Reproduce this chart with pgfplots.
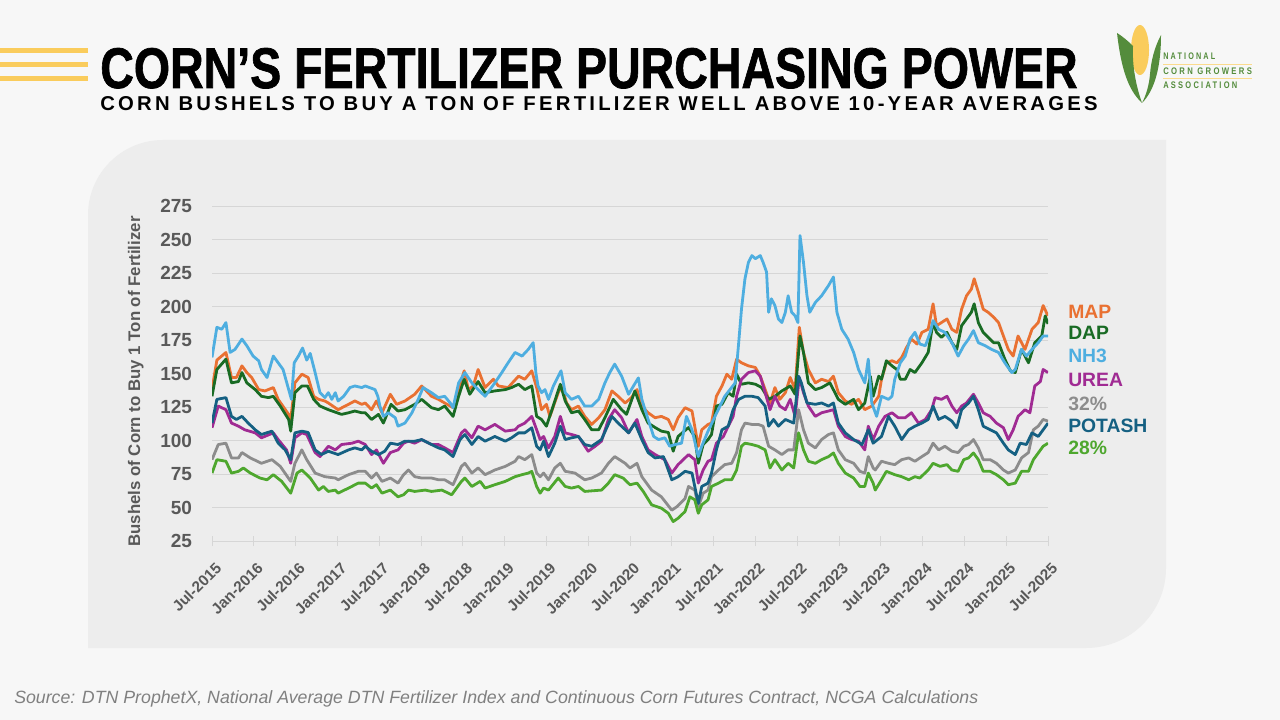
\documentclass[border=0pt]{standalone}
\usepackage{fontspec}
\usepackage{graphicx}
\usepackage{pgfplots}
\usepackage{pgfplotstable}
\pgfplotsset{compat=1.18}
\setmainfont{Liberation Sans}
\newfontfamily\titlefont{Liberation Sans}[BoldFeatures={FakeBold=1.3}]
\newfontfamily\spacedfont{Liberation Sans}[LetterSpace=16]
\newfontfamily\logofont{Liberation Sans}[LetterSpace=30]

\definecolor{cMAP}{RGB}{233,113,50}
\definecolor{cDAP}{RGB}{25,107,36}
\definecolor{cNH}{RGB}{78,174,224}
\definecolor{cUREA}{RGB}{160,43,147}
\definecolor{cThirty}{RGB}{140,140,140}
\definecolor{cPOT}{RGB}{21,96,130}
\definecolor{cTwenty}{RGB}{78,167,46}
\definecolor{pagebg}{RGB}{247,247,247}
\definecolor{panel}{RGB}{237,237,237}
\definecolor{txtgray}{RGB}{89,89,89}
\definecolor{gridc}{RGB}{214,214,214}
\definecolor{stripe}{RGB}{250,204,92}
\definecolor{logogreen}{RGB}{84,140,60}

% x = months since Jul-2015, y = bushels per ton
\pgfplotstableread{
m v
0 138
0.7 160
2.0 165.7
2.8 147
3.5 147
4.3 155.7
5.0 150.7
5.7 147
6.7 138
7.6 137
8.8 139.5
9.5 130.7
11.0 119.5
11.3 115.7
11.9 143
12.9 149.5
13.8 147
14.6 133
15.3 130.7
16.2 129.5
16.7 128
18.1 123
19.6 127
20.5 129.5
21.5 127
22.0 128
22.9 123
23.6 129.5
24.4 120.7
25.6 134.5
26.5 127
27.7 129.5
29.1 134.5
30.1 140.7
31.5 133
32.5 130.7
33.4 128
34.6 124.5
35.4 138
36.2 152
36.8 138
37.5 140.7
38.2 153
39.2 139.5
40.4 145.7
41.1 140.7
42.5 139.5
44.0 148
44.9 145.7
45.9 152
46.6 139.5
47.3 123
48.0 127
48.5 118
49.7 135.7
50.2 140.7
50.9 128
51.6 123
52.6 125.7
53.5 118
54.5 112
55.5 117
56.4 123
57.4 137
58.3 133
59.3 128
60.2 132
61.0 138
61.7 125.7
62.6 120.7
63.6 117
64.5 118
65.5 115.7
66.2 108
66.9 117
67.9 124.5
68.9 122
69.8 95.7
70.3 108
71.2 112
71.7 113
72.4 133
73.2 140.7
73.9 149.5
74.6 145.7
75.3 160.7
76.0 158
77.0 155.7
78.0 154.5
78.7 148
79.4 138
80.1 128
80.8 139.5
81.5 130.7
82.3 135.7
83.0 147
83.7 138
84.3 184.5
84.9 165.7
85.6 153
86.6 143
87.5 145.7
88.5 144
89.2 148
89.9 135.7
90.9 129.5
91.8 127
92.8 130.7
93.7 123
94.7 125.7
95.7 133
96.1 145.7
96.8 158
97.6 159.5
98.3 158
99.0 162
99.7 169.5
100.4 175.7
101.2 172
101.9 180.7
102.8 183
103.5 202
104.0 185.7
104.7 188
105.5 190.7
106.2 183
106.9 180.7
107.6 198
108.3 208
109.0 213
109.4 220.7
110.0 210.7
110.7 198
111.4 195.7
112.2 192
112.9 188
113.6 178
114.3 168
115.0 163
115.7 178
116.7 168
117.7 183
118.6 188
119.3 200.7
120.0 193
}\tMAP

\pgfplotstableread{
m v
0 133
0.7 153
2.0 160.7
2.8 143
3.8 144
4.3 150.7
5.0 143
6.2 138
7.1 133
8.1 132
8.8 133
9.8 125.7
11.0 115.7
11.3 107
11.9 135.7
12.9 140.7
13.7 140.7
14.6 130.7
15.5 125.7
16.7 123
18.6 119.5
19.6 120.7
20.5 122
21.5 120.7
22.0 120.7
22.9 115.7
23.9 119.5
24.6 113
25.7 127
26.7 122
27.7 123
29.1 127
30.1 130.7
31.5 124.5
32.5 123
33.4 125.7
34.6 118
35.4 133
36.2 145.7
37.0 134.5
38.2 144
39.2 135.7
40.6 137
42.1 138
43.0 139.5
44.0 142
44.9 138
45.9 140.7
46.6 118
47.3 115.7
48.0 110.7
48.8 123
50.0 142
50.7 129.5
51.6 120.7
52.6 122
53.5 115.7
54.5 108
55.5 108
56.4 117
57.6 130.7
58.8 123
59.5 119.5
60.7 137
61.7 123
62.6 113
63.6 109.7
64.5 107
65.5 106
66.2 92
66.9 103
68.4 109.7
69.3 103
69.8 83
70.5 97
71.2 100.7
71.7 104.5
72.4 125.7
73.2 127
74.1 135.7
74.8 133
75.3 149.5
76.0 142
77.0 143
78.0 142
78.9 139.5
79.9 130.7
80.8 133
81.8 137
83.0 140.7
83.7 134.5
84.4 178
84.9 165.7
85.6 143
86.6 138
87.5 139.5
88.7 143
89.9 130.7
90.9 127
92.1 130.7
92.8 123
93.7 128
94.5 148
94.9 133
95.7 148
96.1 145.7
96.8 159.5
97.6 155.7
98.3 153
98.8 145.7
99.5 145.7
100.2 153
100.9 150.7
101.9 158
102.8 165.7
103.5 188
104.0 180.7
104.7 177
105.5 180.7
106.2 173
106.9 168
107.6 185.7
108.3 190.7
109.0 195.7
109.4 202
110.0 188
110.7 180.7
111.4 177
112.2 173
112.9 173
113.8 160.7
114.6 152
115.3 150.7
116.2 168
117.2 158
118.1 173
119.1 178
119.6 193
120.0 187
}\tDAP

\pgfplotstableread{
m v
0 162
0.7 184.5
1.4 183
2.0 188
2.6 165.7
3.3 168
4.3 175.7
5.0 170.7
5.9 163
6.7 159.5
7.1 153
7.9 147
8.8 163
9.5 158
10.2 153
11.4 130.7
11.8 158
12.4 163
13.0 169
13.6 160
14.1 165
14.8 150.7
15.5 135.7
16.2 132
16.7 135.7
17.2 130.7
17.7 135.7
18.1 129.5
18.9 133
19.8 139.5
20.5 140.7
21.5 139.5
22.0 140.7
23.4 138
23.8 133
24.1 125.7
24.6 118
25.3 120.7
26.3 117
26.7 110.7
27.7 113
28.7 120.7
29.6 130.7
30.3 139.5
31.5 135.7
32.5 132
33.4 133
34.2 128
34.6 124.5
35.4 143
36.3 150.7
37.3 143
38.2 138
39.2 133
40.6 143
41.6 150.7
42.5 158
43.5 165.7
44.5 163
45.4 168
46.1 173
46.5 150
46.8 140.7
47.3 135.7
47.8 138
48.3 130.7
49.0 140.7
49.7 148
50.1 152
50.7 135.7
51.6 130.7
52.6 133
53.5 125.7
54.5 125.7
55.5 130.7
56.4 143
57.1 150.7
57.8 157
58.8 148
59.8 134.5
60.5 140.7
61.2 146.7
61.7 130.7
62.6 115.7
63.4 103
64.1 100.7
65.0 102
65.7 95.7
66.5 97
67.4 98
68.1 118
68.9 108
69.8 88
70.3 95.7
71.2 107
72.2 118
73.6 133
75.1 143
75.6 173
76.0 198
76.5 220.7
77.0 233
77.5 238
78.0 235.7
78.7 238
79.1 233
79.6 225.7
79.9 195.7
80.3 205.7
80.8 200.7
81.3 190.7
81.8 188
82.3 195.7
82.7 208
83.2 195.7
83.7 193
84.1 188
84.4 253
84.9 233
85.4 208
85.8 195.7
86.6 203
87.5 208
88.5 215.7
89.2 222
89.7 195.7
90.4 183
91.3 175.7
92.1 165.7
92.8 153
93.7 143
94.2 160.7
94.7 128
95.4 118
96.1 133
97.1 130.7
97.6 133
98.0 145.7
98.8 158
99.5 163
100.2 175.7
100.9 180.7
101.6 172
102.4 170.7
103.1 180.7
103.5 189.5
104.3 183
105.2 180.7
106.2 173
107.1 163
107.9 170.7
108.6 175.7
109.3 182
110.0 173
111.0 170.7
111.9 168
112.9 165.7
113.8 158
114.8 150.7
115.3 153
116.2 168
116.9 163
117.7 168
118.6 173
119.3 178
120.0 178
}\tNH

\pgfplotstableread{
m v
0 109.5
0.9 125.7
2.0 123
2.8 113
3.8 110.7
4.7 108
6.2 105.7
7.1 102
8.8 105.7
9.5 100.7
10.7 93
11.3 83
11.9 102
12.9 105.7
13.6 104.5
14.8 91
15.5 88
16.7 95.7
17.7 93
18.6 97
20.1 98
21.0 99.5
22.0 97
22.9 89.5
23.6 93
24.6 83
25.6 91
26.7 93
27.5 98
28.2 99.5
29.1 98
30.1 100.7
31.5 97
32.5 97
33.4 94.5
34.6 91
35.8 105.7
36.3 108
37.3 102
38.2 110.7
39.2 108
40.6 112
42.1 107
43.5 108
44.0 110.7
44.9 113
45.9 118
46.6 108
47.1 100.7
47.6 103
48.3 94.5
49.2 103
50.0 118
50.7 105.7
51.6 104.5
52.6 103
54.0 92
55.0 95.7
55.9 99.5
56.9 115.7
57.8 123
58.8 117
59.8 105.7
61.0 115.7
61.7 103
62.6 93
63.6 89.5
65.0 85.7
66.0 75.7
66.9 82
68.4 89.5
69.3 85.7
69.8 68.2
70.5 78
71.2 84.5
71.7 85.7
72.4 98
73.4 103
74.1 110.7
74.8 118
75.3 133
76.0 145.7
77.0 150.7
78.0 152
78.7 148
79.4 135.7
80.1 123
80.8 133
81.5 125.7
82.3 123
83.0 130.7
83.7 118
84.3 147
84.9 135.7
85.6 125.7
86.6 118
87.5 120.7
88.5 122
89.2 123
89.9 110.7
90.9 103
91.8 100.7
92.8 99.5
93.7 93
94.2 110.7
94.9 100.7
95.7 110.7
96.6 118
97.6 120.7
98.5 117
99.5 117
100.4 120.7
101.4 113
102.4 115.7
103.3 123
103.8 132
104.7 130.7
105.5 133
106.2 125.7
106.9 120.7
107.6 125.7
108.3 128
109.3 134.5
110.0 128
110.7 120.7
111.7 118
112.6 113
113.6 109.5
114.3 100.7
115.0 108
115.7 118
116.7 123
117.4 120.7
118.1 140.7
118.9 144
119.3 153
120.0 150.7
}\tUREA

\pgfplotstableread{
m v
0 85.7
0.9 97
2.0 98
2.8 87
3.8 87
4.3 91
5.5 87
7.1 83
8.6 85.7
9.8 80.7
11.3 69.5
11.9 83
12.9 93
13.6 85.7
14.8 75.7
16.2 73
17.7 72
18.1 70.7
19.6 74.5
21.0 77
22.0 77
22.9 72
23.6 75.7
24.4 69.5
25.6 72
26.7 68.2
27.5 74.5
28.2 78
29.1 73
30.1 72
31.5 72
32.5 70.7
33.4 70.7
34.6 67
35.8 80.7
36.3 83
37.3 75.7
38.2 79.5
39.2 74.5
40.6 78
42.1 80.7
43.5 84.5
44.0 88
44.9 85.7
45.9 89.5
46.6 75.7
47.1 73
47.6 75.7
48.3 70.7
49.2 79.5
50.0 83
50.7 77
52.1 75.7
53.5 70.7
54.5 72
55.9 75.7
56.9 83
57.8 88
59.3 83
60.0 79.5
61.0 83
61.7 73
63.1 63
64.5 58
66.0 48
66.7 50.5
67.9 56.7
68.4 65.7
69.3 63
69.8 50.5
70.5 60.7
71.2 63
71.7 73
72.7 78
73.6 82
74.6 83
75.3 91
76.0 108
76.5 113
77.5 112
78.4 112
79.1 110.7
79.9 95.7
80.8 93
81.8 89.5
82.7 93
83.5 93
84.2 123
84.9 108
85.6 98
86.6 94.5
87.5 100.7
88.5 104.5
89.2 105.7
89.9 93
90.9 85.7
92.1 83
93.0 77
93.7 75.7
94.2 88
94.9 79.5
95.2 78
96.1 84.5
97.1 83
98.0 82
99.0 85.7
100.0 87
100.9 84.5
101.9 88
102.8 91
103.5 98
104.3 93
105.2 95.7
106.2 92
107.1 91
107.9 95.7
108.6 97
109.3 100.7
110.0 94.5
110.7 85.7
111.7 85.7
112.6 83
113.6 78
114.3 75.7
115.3 78
116.2 87
117.2 91
117.9 108
118.6 110.7
119.3 115.7
120.0 114.5
}\tThirty

\pgfplotstableread{
m v
0 113
0.7 130.7
2.0 132
2.8 118
3.5 115.7
4.3 118
5.2 113
6.2 108
7.1 104.5
8.6 107
9.5 98
10.5 93
11.3 85.7
11.9 105.7
12.9 107
13.8 106
14.8 93
15.7 89.5
16.7 92
18.1 89.5
19.6 93
20.5 94.5
21.5 93
22.0 95.7
22.9 92
23.9 89.5
24.8 92
25.6 98
26.7 97
27.7 99.5
29.1 99.5
30.1 100.7
31.5 97
32.5 94.5
33.4 93
34.6 88
35.6 100.7
36.3 104.5
37.3 97
38.2 103
39.2 99.5
40.6 103
42.1 99.5
43.0 102
44.0 105.7
44.9 105.7
45.9 109.5
46.6 95.7
47.1 93
47.6 99.5
48.3 88
49.2 98
50.0 110.7
50.7 100.7
51.6 102
52.6 103
53.5 97
54.5 95.7
55.9 100.7
57.4 118
58.3 113
59.8 105.7
60.7 113
61.7 100.7
62.6 91
63.6 87
64.8 88
66.0 70.7
66.9 73
67.9 77
68.9 75.7
69.8 53
70.3 65.7
71.2 68.2
71.7 75.7
72.4 93
73.2 108
74.1 110.7
74.8 123
75.6 130.7
76.5 133
77.5 133
78.4 132
79.4 125.7
79.9 110.7
80.6 115.7
81.3 110.7
82.3 115.7
83.5 113
84.2 148
84.6 143
85.4 128
86.6 127
87.5 128
88.5 125.7
89.2 128
89.9 113
90.9 105.7
92.1 100.7
93.3 97
94.2 108
94.9 98
96.1 103
97.1 118
98.0 110.7
99.0 100.7
100.0 108
100.9 110.7
101.9 113
102.8 115.7
103.5 125.7
104.3 115.7
105.2 118
106.2 114.5
106.9 109.5
107.6 123
108.6 128
109.3 133
110.0 123
110.7 110.7
111.7 108
112.6 105.7
113.6 98
114.3 93
115.3 89.5
116.0 98
116.9 97
117.7 105.7
118.6 103
119.3 108
120.0 113
}\tPOT

\pgfplotstableread{
m v
0 75.7
0.7 85.7
2.0 84.5
2.8 75.7
3.8 77
4.5 79.5
5.5 75.7
6.9 72
7.9 70.7
8.8 74.5
10.0 69.5
11.3 60.7
12.2 75.7
12.9 78
14.1 72
15.3 63
16.0 65.7
16.7 62
17.7 63
18.1 60.7
19.6 64.5
21.0 68.2
22.0 68.2
22.9 64.5
23.6 67
24.4 60.7
25.6 63
26.7 58
27.5 59.5
28.2 63
29.1 62
30.6 63
31.5 62
33.0 63
34.4 59.5
35.8 69.5
36.3 72
37.3 65.7
38.5 69.5
39.2 64.5
40.6 67
42.1 69.5
43.5 73
44.5 74.5
45.4 75.7
45.9 77
46.6 65.7
47.1 60.7
47.6 64.5
48.3 63
49.7 72
50.7 65.7
51.6 64.5
52.6 65.7
53.5 62
55.9 63
56.9 68.2
57.8 74.5
59.0 72
60.0 67
61.0 68.2
61.9 62
63.1 52
64.5 49.5
65.5 45.7
66.2 39.5
66.9 42
67.9 47
68.6 58
69.3 55.7
69.8 45.7
70.3 52
71.2 55.7
71.7 65.7
72.7 68.2
73.6 70.7
74.6 70.7
75.3 78
76.0 95.7
76.5 98
77.5 97
78.4 95.7
79.4 93
80.1 79.5
80.8 85.7
81.8 78
82.7 83
83.5 79.5
84.2 105.7
84.9 93
85.6 84.5
86.6 83
87.5 85.7
88.5 88
89.2 90.7
89.9 83
90.9 75.7
92.1 72
93.0 65.7
93.7 65.7
94.2 75.7
94.9 68.2
95.2 63
96.1 70.7
96.8 77
98.0 74.5
99.0 73
100.0 70.7
100.9 73
101.6 72
102.8 78
103.5 83
104.5 80.7
105.5 82
106.2 78
107.1 77
107.9 85.7
108.6 87
109.3 90.7
110.0 85.7
110.7 77
111.7 77
112.6 74.5
113.6 70.7
114.3 67
115.3 68.2
116.2 77
117.2 77
117.9 85.7
118.6 90.7
119.3 95.7
120.0 98
}\tTwenty

\begin{document}
\begin{tikzpicture}
% decorations, in pixel units (y downwards)
\begin{scope}[x=0.75pt,y=-0.75pt]
  \fill[pagebg] (0,0) rectangle (1280,720);
  \fill[panel] (88,648) -- (88,215) arc (180:270:75) -- (1166,140)
       -- (1166,568) arc (0:90:80) -- cycle;
  \fill[stripe] (0,48) rectangle (88,53);
  \fill[stripe] (0,62) rectangle (88,67);
  \fill[stripe] (0,76) rectangle (88,81);
  \node[anchor=base west, inner sep=0pt] at (100,88)
    {\resizebox{733pt}{30pt}{\titlefont\bfseries CORN’S FERTILIZER PURCHASING POWER}};
  \node[anchor=base west, inner sep=0pt] at (100,111)
    {\resizebox{748pt}{10.5pt}{\spacedfont\bfseries CORN BUSHELS TO BUY A TON OF FERTILIZER WELL ABOVE 10-YEAR AVERAGES}};
  \node[anchor=base west, inner sep=0pt, text=gray] at (14,703)
    {\resizebox{723pt}{!}{\itshape Source: DTN ProphetX, National Average DTN Fertilizer Index and Continuous Corn Futures Contract, NCGA Calculations}};
  % logo
  \fill[stripe] (1140,50) ellipse (9 and 25);
  \fill[logogreen] (1117,33) .. controls (1121,68) and (1128,90) .. (1142,103)
       .. controls (1136,86) and (1132,66) .. (1133,46)
       .. controls (1128,41) and (1122,36) .. cycle;
  \fill[logogreen] (1161,35) .. controls (1154,48) and (1151,62) .. (1150,74)
       .. controls (1149,86) and (1146,95) .. (1142,103)
       .. controls (1155,90) and (1161,66) .. cycle;
  \draw[stripe!70, line width=0.6pt] (1163,64) -- (1252,64);
  \draw[stripe!70, line width=0.6pt] (1163,78) -- (1252,78);
  \node[anchor=base west, inner sep=0pt, text=logogreen] at (1163,59.5)
    {\resizebox{39pt}{5pt}{\logofont\bfseries NATIONAL}};
  \node[anchor=base west, inner sep=0pt, text=logogreen] at (1163,74.5)
    {\resizebox{66.5pt}{5pt}{\logofont\bfseries CORN GROWERS}};
  \node[anchor=base west, inner sep=0pt, text=logogreen] at (1163,88.5)
    {\resizebox{55.5pt}{5pt}{\logofont\bfseries ASSOCIATION}};
\end{scope}

\begin{axis}[
  at={(159pt,-405.75pt)}, anchor=south west,
  width=627pt, height=251.25pt, scale only axis,
  xmin=0, xmax=120, ymin=25, ymax=275,
  axis x line*=bottom, axis y line*=left,
  x axis line style={draw=gridc, line width=0.75pt, -},
  y axis line style={draw=none},
  xtick={0,6,...,120},
  xticklabels={Jul-2015,Jan-2016,Jul-2016,Jan-2017,Jul-2017,Jan-2018,Jul-2018,
    Jan-2019,Jul-2019,Jan-2020,Jul-2020,Jan-2021,Jul-2021,Jan-2022,Jul-2022,
    Jan-2023,Jul-2023,Jan-2024,Jul-2024,Jan-2025,Jul-2025},
  ytick={25,50,...,275},
  ymajorgrids,
  grid style={draw=gridc, line width=0.75pt},
  major tick length=7.5pt, tick align=center,
  xtick style={draw=gridc, line width=0.75pt},
  ytick style={draw=none},
  xticklabel style={xshift=5pt, yshift=-14.5pt, rotate=45, anchor=east, inner sep=0pt,
    font=\bfseries\fontsize{11.5}{12}\selectfont, text=txtgray},
  yticklabel style={inner sep=0pt, xshift=-11pt,
    font=\bfseries\fontsize{14.25}{15}\selectfont, text=txtgray},
  /pgf/number format/assume math mode=true,
  ylabel={Bushels of Corn to Buy 1 Ton of Fertilizer},
  ylabel style={font=\bfseries\fontsize{12.6}{13}\selectfont, text=txtgray,
    yshift=9pt, xshift=-6pt},
  every axis plot/.append style={line width=2.1pt, line join=round, mark=none},
]
\addplot[cMAP] table[x=m, y=v] {\tMAP};
\addplot[cDAP] table[x=m, y=v] {\tDAP};
\addplot[cNH] table[x=m, y=v] {\tNH};
\addplot[cUREA] table[x=m, y=v] {\tUREA};
\addplot[cThirty] table[x=m, y=v] {\tThirty};
\addplot[cPOT] table[x=m, y=v] {\tPOT};
\addplot[cTwenty] table[x=m, y=v] {\tTwenty};
\end{axis}

\begin{scope}[x=0.75pt,y=-0.75pt]
  \begin{scope}[every node/.style={anchor=west, inner sep=0pt,
      font=\bfseries\fontsize{14.5}{15}\selectfont}]
    \node[text=cMAP] at (1068,311.5) {MAP};
    \node[text=cDAP] at (1068,333) {DAP};
    \node[text=cNH] at (1068,356) {NH3};
    \node[text=cUREA] at (1068,380) {UREA};
    \node[text=cThirty] at (1068,403.5) {32\%};
    \node[text=cPOT] at (1068,426) {POTASH};
    \node[text=cTwenty] at (1068,448) {28\%};
  \end{scope}
  \pgfresetboundingbox
  \path[use as bounding box] (0,0) rectangle (1280,720);
\end{scope}
\end{tikzpicture}
\end{document}
